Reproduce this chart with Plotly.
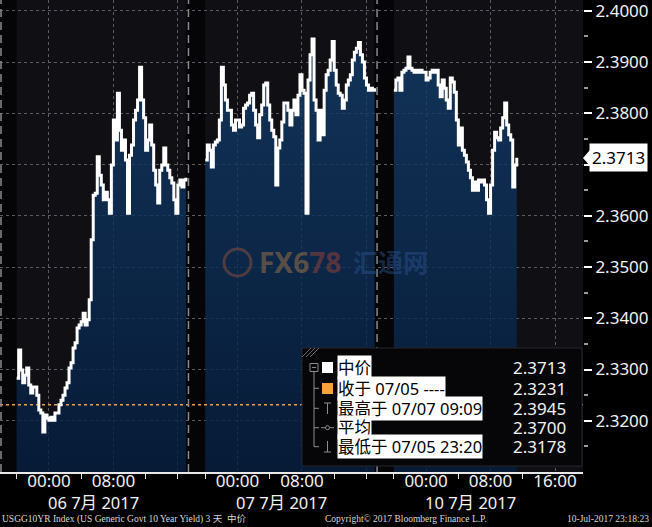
import plotly.graph_objects as go
import pandas as pd

# ---------------- data ----------------
DAY_LABELS = ["06 7月 2017", "07 7月 2017", "10 7月 2017"]
DAY_DATES = ["2017-07-06", "2017-07-07", "2017-07-10"]
SESSION_STARTS = ["2017-07-05 20:00", "2017-07-06 20:00", "2017-07-09 20:00"]
STEP = "15min"

DAY1 = [2.3283, 2.3338, 2.3299, 2.3274, 2.3289, 2.3303, 2.3270, 2.3254, 2.3266, 2.3266,
        2.3250, 2.3221, 2.3215, 2.3178, 2.3211, 2.3205, 2.3201, 2.3207, 2.3201, 2.3215,
        2.3215, 2.3231, 2.3240, 2.3250, 2.3264, 2.3274, 2.3303, 2.3313, 2.3342, 2.3352,
        2.3381, 2.3387, 2.3393, 2.3410, 2.3387, 2.3397, 2.3436, 2.3553, 2.3640, 2.3644,
        2.3715, 2.3679, 2.3660, 2.3631, 2.3646, 2.3631, 2.3605, 2.3699, 2.3787, 2.3748,
        2.3839, 2.3767, 2.3728, 2.3748, 2.3709, 2.3605, 2.3718, 2.3738, 2.3787, 2.3806,
        2.3826, 2.3890, 2.3826, 2.3791, 2.3728, 2.3748, 2.3777, 2.3738, 2.3689, 2.3660,
        2.3625, 2.3689, 2.3699, 2.3732, 2.3699, 2.3689, 2.3674, 2.3664, 2.3631, 2.3605,
        2.3660, 2.3670, 2.3656, 2.3670, 2.3674]
DAY2 = [2.3709, 2.3738, 2.3728, 2.3695, 2.3738, 2.3744, 2.3748, 2.3787, 2.3890, 2.3855,
        2.3826, 2.3806, 2.3806, 2.3777, 2.3767, 2.3787, 2.3787, 2.3773, 2.3777, 2.3810,
        2.3816, 2.3820, 2.3835, 2.3839, 2.3806, 2.3777, 2.3752, 2.3797, 2.3816, 2.3855,
        2.3859, 2.3816, 2.3787, 2.3767, 2.3754, 2.3660, 2.3732, 2.3748, 2.3783, 2.3820,
        2.3820, 2.3806, 2.3777, 2.3806, 2.3826, 2.3797, 2.3835, 2.3875, 2.3845, 2.3839,
        2.3605, 2.3865, 2.3914, 2.3945, 2.3826, 2.3806, 2.3748, 2.3806, 2.3758, 2.3845,
        2.3875, 2.3884, 2.3904, 2.3940, 2.3884, 2.3855, 2.3839, 2.3835, 2.3810, 2.3826,
        2.3855, 2.3865, 2.3875, 2.3904, 2.3919, 2.3927, 2.3938, 2.3914, 2.3900, 2.3869,
        2.3855, 2.3845, 2.3849, 2.3845, 2.3849]
DAY3 = [2.3845, 2.3865, 2.3869, 2.3845, 2.3880, 2.3884, 2.3888, 2.3910, 2.3888, 2.3884,
        2.3880, 2.3884, 2.3880, 2.3884, 2.3880, 2.3880, 2.3865, 2.3869, 2.3880, 2.3884,
        2.3880, 2.3884, 2.3855, 2.3832, 2.3865, 2.3849, 2.3826, 2.3810, 2.3869, 2.3861,
        2.3841, 2.3787, 2.3738, 2.3771, 2.3728, 2.3718, 2.3705, 2.3689, 2.3674, 2.3650,
        2.3666, 2.3650, 2.3670, 2.3666, 2.3670, 2.3660, 2.3631, 2.3605, 2.3660, 2.3728,
        2.3763, 2.3752, 2.3748, 2.3771, 2.3791, 2.3820, 2.3777, 2.3758, 2.3748, 2.3656,
        2.3699, 2.3713]
SERIES = [DAY1, DAY2, DAY3]

PREV_CLOSE = 2.3231
CURRENT = 2.3713
LEGEND_LABELS = ["中价", "收于 07/05 ----", "最高于 07/07 09:09", "平均", "最低于 07/05 23:20"]
LEGEND_VALUES = [2.3713, 2.3231, 2.3945, 2.3700, 2.3178]

Y_TICKS = [2.32, 2.33, 2.34, 2.35, 2.36, 2.37, 2.38, 2.39, 2.40]
Y_MINOR = [2.315, 2.325, 2.335, 2.345, 2.355, 2.365, 2.375, 2.385, 2.395]
Y_RANGE = [2.3100, 2.4021]
X_RANGE = ["2017-07-05 17:56", "2017-07-10 19:28"]
X_TICKS = ["2017-07-06 00:00", "2017-07-06 08:00", "2017-07-06 16:00",
           "2017-07-07 00:00", "2017-07-07 08:00", "2017-07-07 16:00",
           "2017-07-10 00:00", "2017-07-10 08:00", "2017-07-10 16:00"]
X_TICKTEXT = ["00:00", "08:00", "", "00:00", "08:00", "", "00:00", "08:00", "16:00"]
X_MINOR = ["2017-07-05 20:00", "2017-07-06 04:00", "2017-07-06 12:00", "2017-07-06 16:00",
           "2017-07-06 20:00", "2017-07-07 04:00", "2017-07-07 12:00", "2017-07-07 16:00",
           "2017-07-09 20:00", "2017-07-10 04:00", "2017-07-10 12:00"]
SEPARATORS = ["2017-07-06 17:19", "2017-07-07 17:19"]
OFF_SESSIONS = [(X_RANGE[0], "2017-07-05 20:00"),
                ("2017-07-06 17:00", "2017-07-06 20:00"),
                ("2017-07-07 17:00", "2017-07-09 20:00")]

# ---------------- style ----------------
FONT = "Noto Sans, Noto Sans CJK SC, sans-serif"
GRID = "#5c5c68"
W, H = 652, 527
PW, PH = 583, 472   # plot area in pixels


def px(x):
    return x / PW


def py(y):
    return 1 - y / PH


fig = go.Figure()

times = [pd.date_range(s, periods=len(v), freq=STEP) for s, v in zip(SESSION_STARTS, SERIES)]

# fills
for t, v in zip(times, SERIES):
    fig.add_trace(go.Scatter(
        x=t, y=v, mode="lines", line=dict(width=0, shape="hv"),
        fill="tozeroy",
        fillgradient=dict(type="vertical",
                          colorscale=[[0, "rgba(4,30,64,0.78)"], [1, "rgba(20,64,112,0.78)"]],
                          start=Y_RANGE[0], stop=Y_RANGE[1]),
        hoverinfo="skip", showlegend=False))

# previous close reference line
fig.add_trace(go.Scatter(
    x=X_RANGE, y=[PREV_CLOSE, PREV_CLOSE], mode="lines",
    line=dict(color="#f0a040", width=1.5, dash="dot"),
    hoverinfo="skip", showlegend=False))

# price lines
for t, v in zip(times, SERIES):
    fig.add_trace(go.Scatter(
        x=t, y=v, mode="lines", line=dict(color="white", width=3, shape="hv"),
        hoverinfo="skip", showlegend=False))

shapes = []
for a, b in OFF_SESSIONS:
    shapes.append(dict(type="rect", xref="x", yref="paper", x0=a, x1=b, y0=0, y1=1,
                       fillcolor="#050507", line=dict(width=0), layer="below"))
for s in SEPARATORS:
    shapes.append(dict(type="line", xref="x", yref="paper", x0=s, x1=s, y0=0, y1=1,
                       line=dict(color="#8a8a8a", width=1.5, dash="8px,5px"), layer="above"))
shapes.append(dict(type="line", xref="paper", yref="paper", x0=px(1), x1=px(1), y0=0, y1=1,
                   line=dict(color="#8a8a8a", width=1.5, dash="8px,5px"), layer="above"))

# legend box
shapes.append(dict(type="rect", xref="paper", yref="paper",
                   x0=px(302), x1=px(582), y0=py(466), y1=py(348),
                   fillcolor="#060608", line=dict(color="#26262c", width=1), layer="above"))
for d in (0, 4, 8):
    shapes.append(dict(type="line", xref="paper", yref="paper",
                       x0=px(302 + d), y0=py(357), x1=px(311 + d), y1=py(348),
                       line=dict(color="#6a6a70", width=1), layer="above"))
ROW_Y = [367.7, 388.3, 408.3, 427.7, 446.7]
ICON = "#8c8c8c"
# tree
shapes.append(dict(type="rect", xref="paper", yref="paper", x0=px(310), x1=px(318),
                   y0=py(371.5), y1=py(363.5), line=dict(color=ICON, width=1), layer="above"))
shapes.append(dict(type="line", xref="paper", yref="paper", x0=px(312), x1=px(316),
                   y0=py(367.5), y1=py(367.5), line=dict(color=ICON, width=1), layer="above"))
shapes.append(dict(type="line", xref="paper", yref="paper", x0=px(314), x1=px(314),
                   y0=py(372), y1=py(ROW_Y[4]), line=dict(color=ICON, width=1), layer="above"))
for ry in ROW_Y[1:]:
    shapes.append(dict(type="line", xref="paper", yref="paper", x0=px(314), x1=px(319),
                       y0=py(ry), y1=py(ry), line=dict(color=ICON, width=1), layer="above"))
# row markers
shapes.append(dict(type="rect", xref="paper", yref="paper", x0=px(322), x1=px(333),
                   y0=py(373), y1=py(362), fillcolor="white", line=dict(width=0), layer="above"))
shapes.append(dict(type="rect", xref="paper", yref="paper", x0=px(322), x1=px(333),
                   y0=py(394), y1=py(383), fillcolor="#f4a43a", line=dict(width=0), layer="above"))
# high icon
shapes.append(dict(type="line", xref="paper", yref="paper", x0=px(327.5), x1=px(327.5),
                   y0=py(403), y1=py(414), line=dict(color=ICON, width=1), layer="above"))
shapes.append(dict(type="line", xref="paper", yref="paper", x0=px(324), x1=px(331),
                   y0=py(403), y1=py(403), line=dict(color=ICON, width=1), layer="above"))
# average icon
shapes.append(dict(type="line", xref="paper", yref="paper", x0=px(321), x1=px(334),
                   y0=py(ROW_Y[3]), y1=py(ROW_Y[3]), line=dict(color=ICON, width=1), layer="above"))
shapes.append(dict(type="circle", xref="paper", yref="paper", x0=px(325.5), x1=px(329.5),
                   y0=py(ROW_Y[3] + 2), y1=py(ROW_Y[3] - 2), line=dict(color=ICON, width=1),
                   fillcolor="#060608", layer="above"))
# low icon
shapes.append(dict(type="line", xref="paper", yref="paper", x0=px(327.5), x1=px(327.5),
                   y0=py(441), y1=py(452), line=dict(color=ICON, width=1), layer="above"))
shapes.append(dict(type="line", xref="paper", yref="paper", x0=px(324), x1=px(331),
                   y0=py(452), y1=py(452), line=dict(color=ICON, width=1), layer="above"))
# current value pointer
shapes.append(dict(type="path", xref="paper", yref="paper",
                   path=f"M {px(583)} {py(158)} L {px(590)} {py(150)} L {px(590)} {py(166)} Z",
                   fillcolor="white", line=dict(width=0), layer="above"))
# watermark logo
shapes.append(dict(type="circle", xref="paper", yref="paper", x0=px(224), x1=px(251),
                   y0=py(276), y1=py(249), line=dict(color="rgba(190,95,60,0.38)", width=3),
                   layer="above"))

ann = []
for lab, ry in zip(LEGEND_LABELS, ROW_Y):
    ann.append(dict(xref="paper", yref="paper", x=px(337), y=py(ry), xanchor="left",
                    yanchor="middle", text=lab, showarrow=False, bgcolor="white",
                    borderpad=0, font=dict(family=FONT, size=16.5, color="black")))
for val, ry in zip(LEGEND_VALUES, ROW_Y):
    ann.append(dict(xref="paper", yref="paper", x=px(568), y=py(ry), xanchor="right",
                    yanchor="middle", text=f"{val:.4f}", showarrow=False,
                    font=dict(family=FONT, size=17, color="#f2f2f2")))
# current value label on axis
ann.append(dict(xref="paper", yref="y", x=px(589), y=CURRENT, xanchor="left", yanchor="middle",
                text=f"{CURRENT:.4f}", showarrow=False, bgcolor="white", borderpad=2,
                font=dict(family=FONT, size=17, color="black")))
# day labels
for d, lab in zip(DAY_DATES, DAY_LABELS):
    ann.append(dict(xref="x", yref="paper", x=f"{d} 05:30", y=py(502), xanchor="center",
                    yanchor="middle", text=lab, showarrow=False,
                    font=dict(family=FONT, size=16.5, color="#f2f2f2")))
# footer
FOOT = "Liberation Serif, Noto Sans CJK SC, serif"
ann.append(dict(xref="paper", yref="paper", x=px(0), y=py(519), xanchor="left", yanchor="middle",
                text="USGG10YR Index (US Generic Govt 10 Year Yield) 3 天  中价", showarrow=False,
                font=dict(family=FOOT, size=9.5, color="#d8d8d8")))
ann.append(dict(xref="paper", yref="paper", x=px(323), y=py(519), xanchor="left", yanchor="middle",
                text="Copyright© 2017 Bloomberg Finance L.P.", showarrow=False,
                font=dict(family=FOOT, size=9.5, color="#d8d8d8")))
ann.append(dict(xref="paper", yref="paper", x=px(651), y=py(519), xanchor="right", yanchor="middle",
                text="10-Jul-2017 23:18:23", showarrow=False,
                font=dict(family=FOOT, size=9.5, color="#d8d8d8")))
# watermark text
ann.append(dict(xref="paper", yref="paper", x=px(300), y=py(262), xanchor="center", yanchor="middle",
                text="<b><span style='color:rgba(190,130,70,0.45)'>FX6</span>"
                     "<span style='color:rgba(180,70,55,0.45)'>78</span></b>",
                showarrow=False, font=dict(family=FONT, size=28)))
ann.append(dict(xref="paper", yref="paper", x=px(390), y=py(262), xanchor="center", yanchor="middle",
                text="<b>汇通网</b>", showarrow=False,
                font=dict(family=FONT, size=25, color="rgba(45,85,150,0.45)")))

fig.update_layout(
    width=W, height=H,
    margin=dict(l=0, r=W - PW, t=0, b=H - PH, autoexpand=False),
    paper_bgcolor="#000000", plot_bgcolor="#0f0f14",
    showlegend=False,
    xaxis=dict(
        type="date", range=X_RANGE,
        rangebreaks=[dict(values=["2017-07-06 17:20:00"], dvalue=36 * 60 * 1000),
                     dict(values=["2017-07-07 17:20:00"], dvalue=(48 * 60 + 36) * 60 * 1000)],
        tickmode="array", tickvals=X_TICKS, ticktext=X_TICKTEXT, ticks="",
        ticklabelstandoff=-7,
        showgrid=True, gridcolor=GRID, griddash="dot", gridwidth=1,
        showline=True, linecolor="#e8e8e8", linewidth=1.5, zeroline=False,
        tickfont=dict(family=FONT, size=17, color="#f2f2f2"),
        minor=dict(tickmode="array", tickvals=X_MINOR, ticks="outside", ticklen=5,
                   tickcolor="#dddddd", tickwidth=1, showgrid=False),
        automargin=False, fixedrange=True),
    yaxis=dict(
        side="right", range=Y_RANGE, tickmode="array", tickvals=Y_TICKS,
        ticktext=["" if abs(v - 2.37) < 1e-9 else f"{v:.4f}" for v in Y_TICKS],
        ticks="outside", ticklen=8, tickwidth=2, tickcolor="white",
        ticklabeloverflow="allow",
        showgrid=True, gridcolor=GRID, griddash="dot", gridwidth=1,
        showline=False, zeroline=False,
        tickfont=dict(family=FONT, size=17, color="#f2f2f2"),
        minor=dict(tickmode="array", tickvals=Y_MINOR, ticks="outside", ticklen=4,
                   tickcolor="#9a9a9a", showgrid=False),
        automargin=False, fixedrange=True),
    shapes=shapes, annotations=ann,
)

fig.write_html("out.html", config={"displayModeBar": False},
               post_script="document.body.style.margin='0';document.body.style.overflow='hidden';")
